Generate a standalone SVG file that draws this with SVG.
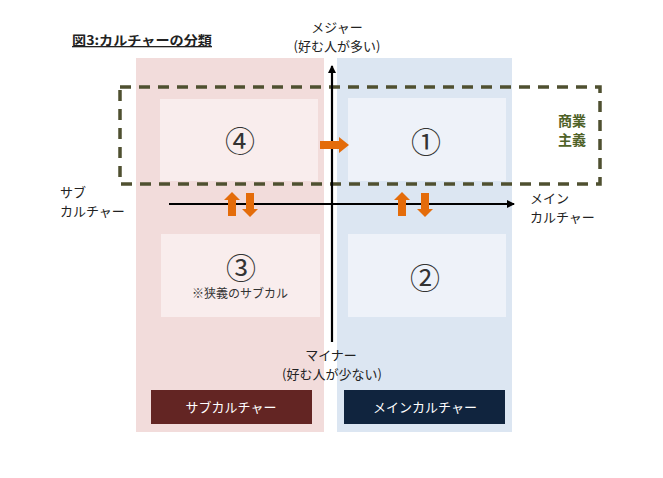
<svg xmlns="http://www.w3.org/2000/svg" width="663" height="478" viewBox="0 0 663 478">
<style>
text{font-family:"Noto Sans CJK JP","Noto Sans",sans-serif;}
.lbl{font-size:13px;fill:#222;}
.num{font-size:30px;fill:#333;text-anchor:middle;}
.btn{font-size:13px;fill:#fff;text-anchor:middle;}
.oa{fill:#e46c0a;}
.ax{stroke:#000;stroke-width:2.2;fill:none;}
</style>
<defs>
<marker id="ah" markerWidth="10" markerHeight="10" refX="7" refY="5" orient="auto" markerUnits="userSpaceOnUse">
<path d="M0,1 L8,5 L0,9 Z" fill="#000"/>
</marker>
</defs>
<rect width="663" height="478" fill="#fff"/>
<text x="72" y="45" font-size="13" font-weight="bold" fill="#222" text-decoration="underline" textLength="140" lengthAdjust="spacingAndGlyphs">図3:カルチャーの分類</text>
<g id="sub-column">
<rect x="136" y="58" width="188" height="374" fill="#f2dcdb"/>
</g>
<g id="main-column">
<rect x="337" y="58" width="175" height="374" fill="#dce6f2"/>
</g>
<g id="q4">
<rect x="160" y="99" width="158" height="82" fill="#f9eded"/>
<text class="num" x="240" y="152">④</text>
</g>
<g id="q1">
<rect x="348" y="98" width="158" height="83" fill="#eef2f9"/>
<text class="num" x="426" y="152.5">①</text>
</g>
<g id="q3">
<rect x="161" y="234" width="159" height="83" fill="#f9eded"/>
<text class="num" x="241" y="278.5">③</text>
<text x="240" y="298" font-size="12" fill="#333" text-anchor="middle">※狭義のサブカル</text>
</g>
<g id="q2">
<rect x="348" y="234" width="158" height="83" fill="#eef2f9"/>
<text class="num" x="425" y="288.5">②</text>
</g>
<g id="commercialism">
<rect x="120" y="87" width="480" height="97" fill="none" stroke="#4f5030" stroke-width="3.5" stroke-dasharray="11 8"/>
<text x="572" y="126" font-size="14" font-weight="bold" fill="#4f6228" text-anchor="middle">商業</text>
<text x="572" y="145" font-size="14" font-weight="bold" fill="#4f6228" text-anchor="middle">主義</text>
</g>
<g id="connectors">
<line class="ax" x1="169" y1="204" x2="514" y2="204" marker-end="url(#ah)"/>
<line class="ax" x1="332" y1="342" x2="332" y2="66" marker-end="url(#ah)"/>
<path class="oa" d="M320,141 H339 V137 L349,145 L339,153 V149 H320 Z"/>
<path class="oa" d="M232,192 L240,200 H236 V216 H228 V200 H224 Z"/>
<path class="oa" d="M250,217 L258,209 H254 V193 H246 V209 H242 Z"/>
<path class="oa" d="M402,192 L410,200 H406 V216 H398 V200 H394 Z"/>
<path class="oa" d="M425,217 L433,209 H429 V193 H421 V209 H417 Z"/>
</g>
<g id="axis-labels">
<text class="lbl" x="337" y="32" text-anchor="middle">メジャー</text>
<text class="lbl" x="337" y="51" text-anchor="middle">(好む人が多い)</text>
<text class="lbl" x="331" y="360" text-anchor="middle">マイナー</text>
<text class="lbl" x="332" y="379" text-anchor="middle">(好む人が少ない)</text>
<text class="lbl" x="60" y="197">サブ</text>
<text class="lbl" x="60" y="216">カルチャー</text>
<text class="lbl" x="530" y="203">メイン</text>
<text class="lbl" x="530" y="222">カルチャー</text>
</g>
<g id="btn-sub">
<rect x="151" y="390" width="161" height="34" fill="#632523"/>
<text class="btn" x="231" y="412">サブカルチャー</text>
</g>
<g id="btn-main">
<rect x="344" y="390" width="161" height="34" fill="#10243e"/>
<text class="btn" x="425" y="412">メインカルチャー</text>
</g>
</svg>
